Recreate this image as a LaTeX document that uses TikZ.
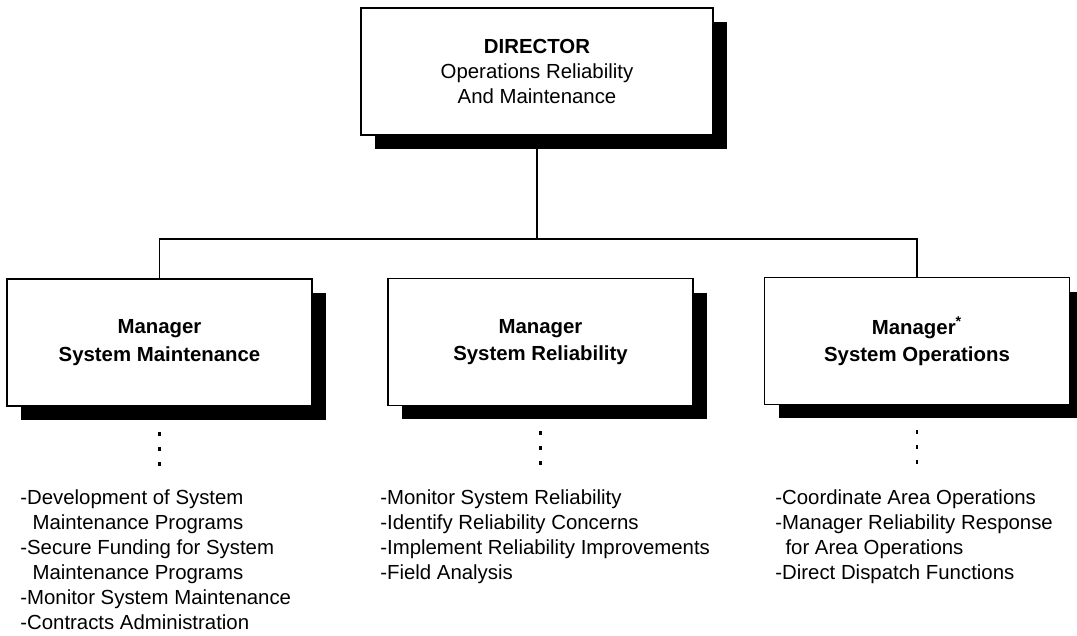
\documentclass[tikz,border=0pt]{standalone}
\usepackage{fontspec}
\setmainfont{Liberation Sans}
\usetikzlibrary{shadows,positioning}

\begin{document}
\begin{tikzpicture}[x=0.02cm, y=-0.02cm,
    box/.style={draw, line width=1pt, fill=white, minimum height=2.54cm, align=center,
        font=\fontsize{11.6}{15.5}\selectfont\bfseries,
        drop shadow={shadow xshift=0.28cm, shadow yshift=-0.28cm, fill=black, opacity=1}},
    duty/.style={anchor=north west, inner sep=0pt, align=left, font=\fontsize{11.6}{14.3}\selectfont},
    link/.style={line width=1pt},
    dots/.style={line width=1.2pt, dash pattern=on 0.08cm off 0.22cm}
]
\useasboundingbox (0,0) rectangle (1077,635);

\node[box, minimum width=7.04cm, font=\fontsize{11.6}{14.5}\selectfont] (dir) at (537,71.5) {\textbf{DIRECTOR}\\Operations Reliability\\And Maintenance};
\node[box, minimum width=6.1cm] (maint) at (159.5,342.5) {Manager\\System Maintenance};
\node[box, minimum width=6.1cm] (relia) at (540.5,342) {Manager\\System Reliability};
\node[box, minimum width=6.1cm] (oper) at (917,341) {Manager\textsuperscript{*}\\System Operations};

\coordinate (bus) at (537,239);
\draw[link] (dir.south) -- (bus);
\draw[link] (maint.north) |- (bus) -| (oper.north);

\node[duty] (maintlist) at (20,489) {-Development of System\\\hspace*{0.6em}Maintenance Programs\\-Secure Funding for System\\\hspace*{0.6em}Maintenance Programs\\-Monitor System Maintenance\\-Contracts Administration};
\node[duty] (relialist) at (380,489) {-Monitor System Reliability\\-Identify Reliability Concerns\\-Implement Reliability Improvements\\-Field Analysis};
\node[duty] (operlist) at (775,489) {-Coordinate Area Operations\\-Manager Reliability Response\\\hspace*{0.5em}for Area Operations\\-Direct Dispatch Functions};

\draw[dots] ([yshift=-0.5cm]maint.south) -- ++(0,34);
\draw[dots] ([yshift=-0.5cm]relia.south) -- ++(0,34);
\draw[dots] ([yshift=-0.5cm]oper.south) -- ++(0,34);
\end{tikzpicture}
\end{document}
